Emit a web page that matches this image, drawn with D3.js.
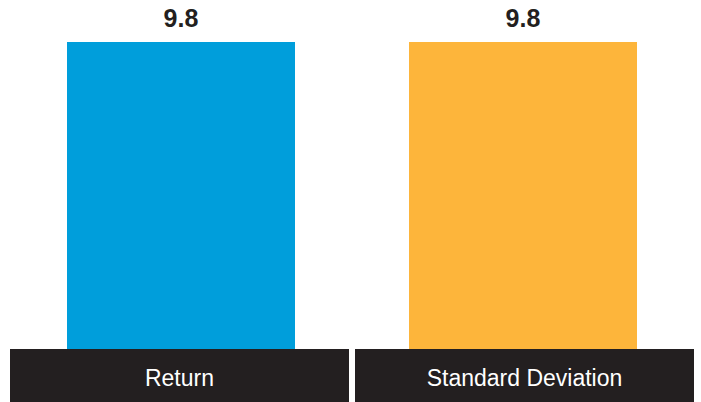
<!DOCTYPE html>
<html>
<head>
<meta charset="utf-8">
<script src="https://cdn.jsdelivr.net/npm/d3@7"></script>
<style>
  html, body { margin: 0; padding: 0; background: #fff; }
  svg { display: block; }
</style>
</head>
<body>
<svg id="chart" width="701" height="402"></svg>
<script>
const categories = ["Return", "Standard Deviation"];
const values = [9.8, 9.8];
const valueLabels = ["9.8", "9.8"];
const colors = ["#009EDB", "#FDB53B"];

const svg = d3.select("#chart");
const W = 701, H = 402;

const xBar = d3.scaleBand().domain(categories).range([10, 694])
  .paddingInner(1/3).paddingOuter(1/6);
const xBox = d3.scaleBand().domain(categories).range([10, 694])
  .paddingInner(6/345).paddingOuter(0);
const y = d3.scaleLinear().domain([0, 9.8]).range([349, 42]);

svg.selectAll("rect.bar").data(categories).enter().append("rect")
  .attr("class", "bar")
  .attr("x", d => xBar(d))
  .attr("width", xBar.bandwidth())
  .attr("y", (d, i) => y(values[i]))
  .attr("height", (d, i) => y(0) - y(values[i]))
  .attr("fill", (d, i) => colors[i]);

svg.selectAll("text.val").data(categories).enter().append("text")
  .attr("class", "val")
  .attr("x", d => xBar(d) + xBar.bandwidth() / 2)
  .attr("y", (d, i) => y(values[i]) - 15)
  .attr("text-anchor", "middle")
  .attr("font-family", "'Liberation Sans', Arial, sans-serif")
  .attr("font-weight", "bold")
  .attr("font-size", 25)
  .attr("fill", "#231F20")
  .text((d, i) => valueLabels[i]);

svg.selectAll("rect.box").data(categories).enter().append("rect")
  .attr("class", "box")
  .attr("x", d => xBox(d))
  .attr("width", xBox.bandwidth())
  .attr("y", y(0))
  .attr("height", H - y(0))
  .attr("fill", "#231F20");

svg.selectAll("text.cat").data(categories).enter().append("text")
  .attr("class", "cat")
  .attr("x", d => xBox(d) + xBox.bandwidth() / 2)
  .attr("y", 386)
  .attr("text-anchor", "middle")
  .attr("font-family", "'Liberation Sans', Arial, sans-serif")
  .attr("font-size", 23)
  .attr("fill", "#ffffff")
  .text(d => d);
</script>
</body>
</html>
